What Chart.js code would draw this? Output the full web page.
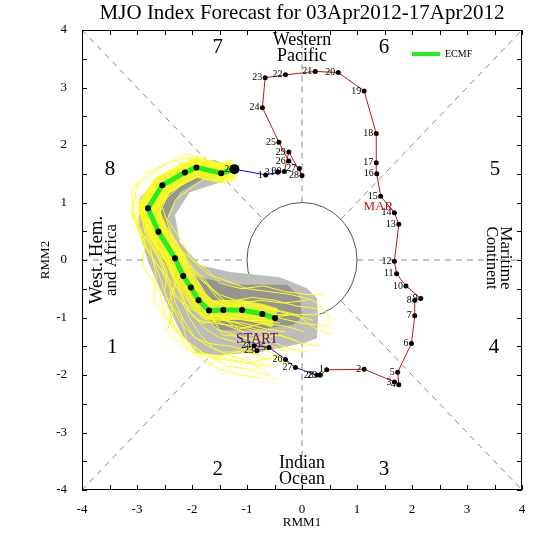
<!DOCTYPE html>
<html>
<head>
<meta charset="utf-8">
<script src="https://cdn.jsdelivr.net/npm/chart.js@4.4.1/dist/chart.umd.min.js"></script>
<style>
  body { margin: 0; background: #fff; }
  #wrap { width: 547px; height: 547px; }
</style>
</head>
<body>
<div id="wrap"><canvas id="mjo" width="547" height="547"></canvas></div>
<script>
const febDays = [23, 24, 25, 26, 27, 28, 29];
const febX = [-0.82, -0.87, -0.60, -0.30, -0.12, 0.27, 0.33];
const febY = [-1.58, -1.49, -1.52, -1.73, -1.87, -2.00, -2.00];

const marDays = [1, 2, 3, 4, 5, 6, 7, 8, 9, 10, 11, 12, 13, 14, 15, 16,
  17, 18, 19, 20, 21, 22, 23, 24, 25, 26, 27, 28, 29, 30, 31];
const marX = [0.45, 1.13, 1.68, 1.76, 1.74, 1.99, 2.05, 2.05, 2.16, 1.89, 1.72,
  1.68, 1.76, 1.68, 1.43, 1.36, 1.35, 1.35, 1.13, 0.66, 0.24, -0.30, -0.67,
  -0.72, -0.42, -0.24, -0.05, 0.00, -0.24, -0.32, -0.44];
const marY = [-1.91, -1.90, -2.12, -2.17, -1.95, -1.45, -0.97, -0.70, -0.67,
  -0.45, -0.24, -0.02, 0.62, 0.82, 1.11, 1.50, 1.69, 2.20, 2.94, 3.26, 3.28,
  3.22, 3.17, 2.65, 2.05, 1.72, 1.59, 1.47, 1.88, 1.54, 1.53];

const aprDays = [1, 2];
const aprX = [-0.66, -1.23];
const aprY = [1.48, 1.58];

// ECMF ensemble mean forecast, 03Apr - 17Apr (first value = last observed)
const fcstX = [-1.23, -1.47, -1.92, -2.13, -2.54, -2.80, -2.61, -2.31, -2.16,
  -2.02, -1.88, -1.69, -1.43, -1.09, -0.72, -0.49];
const fcstY = [1.58, 1.51, 1.61, 1.52, 1.30, 0.90, 0.49, 0.03, -0.28, -0.48,
  -0.70, -0.88, -0.87, -0.87, -0.94, -1.01];

// a selection of ensemble members (estimated)
const members = [
  [[-1.23,1.58],[-1.5,1.6],[-1.95,1.7],[-2.25,1.6],[-2.7,1.35],[-2.95,0.95],[-2.85,0.45],[-2.6,0.0],[-2.45,-0.35],[-2.3,-0.6],[-2.1,-0.85],[-1.9,-1.05],[-1.6,-1.1],[-1.2,-1.15],[-0.8,-1.25],[-0.5,-1.35]],
  [[-1.23,1.58],[-1.45,1.45],[-1.85,1.5],[-2.05,1.4],[-2.4,1.2],[-2.6,0.8],[-2.45,0.4],[-2.1,-0.05],[-1.9,-0.3],[-1.7,-0.45],[-1.5,-0.6],[-1.2,-0.7],[-0.9,-0.65],[-0.5,-0.7],[-0.1,-0.8],[0.3,-0.85]],
  [[-1.23,1.58],[-1.5,1.55],[-2.0,1.65],[-2.3,1.45],[-2.75,1.15],[-3.05,0.75],[-2.9,0.3],[-2.55,-0.2],[-2.4,-0.5],[-2.35,-0.85],[-2.2,-1.1],[-1.95,-1.35],[-1.7,-1.45],[-1.3,-1.5],[-0.9,-1.6],[-0.6,-1.75]],
  [[-1.23,1.58],[-1.4,1.55],[-1.8,1.68],[-2.05,1.6],[-2.45,1.4],[-2.75,1.05],[-2.7,0.6],[-2.45,0.2],[-2.3,-0.1],[-2.05,-0.35],[-1.85,-0.55],[-1.55,-0.75],[-1.3,-0.8],[-0.95,-0.95],[-0.55,-1.0],[-0.2,-0.95]],
  [[-1.23,1.58],[-1.55,1.5],[-2.0,1.55],[-2.2,1.4],[-2.6,1.1],[-2.8,0.7],[-2.5,0.3],[-2.2,-0.1],[-2.1,-0.45],[-1.95,-0.75],[-1.75,-1.0],[-1.55,-1.2],[-1.25,-1.3],[-0.9,-1.4],[-0.55,-1.5],[-0.25,-1.6]],
  [[-1.23,1.58],[-1.5,1.62],[-1.9,1.75],[-2.2,1.65],[-2.6,1.45],[-2.9,1.1],[-3.0,0.6],[-2.8,0.15],[-2.5,-0.25],[-2.2,-0.55],[-2.05,-0.9],[-1.8,-1.1],[-1.45,-1.05],[-1.05,-1.1],[-0.65,-1.2],[-0.3,-1.25]],
  [[-1.23,1.58],[-1.45,1.48],[-1.85,1.55],[-2.1,1.5],[-2.5,1.25],[-2.7,0.85],[-2.55,0.55],[-2.3,0.15],[-2.05,-0.1],[-1.8,-0.3],[-1.6,-0.55],[-1.35,-0.75],[-1.0,-0.85],[-0.6,-0.85],[-0.2,-0.95],[0.2,-1.05]],
  [[-1.23,1.58],[-1.5,1.52],[-1.95,1.6],[-2.2,1.55],[-2.55,1.2],[-2.85,0.8],[-2.75,0.35],[-2.4,-0.1],[-2.25,-0.45],[-2.15,-0.7],[-2.0,-0.95],[-1.75,-1.2],[-1.5,-1.35],[-1.1,-1.45],[-0.7,-1.55],[-0.35,-1.7]],
  [[-1.23,1.58],[-1.48,1.58],[-1.9,1.62],[-2.15,1.55],[-2.5,1.35],[-2.7,0.95],[-2.65,0.5],[-2.35,0.05],[-2.2,-0.25],[-2.0,-0.5],[-1.85,-0.72],[-1.65,-0.95],[-1.35,-1.0],[-1.0,-1.05],[-0.65,-1.05],[-0.4,-1.1]],
  [[-1.23,1.58],[-1.52,1.5],[-2.0,1.58],[-2.25,1.48],[-2.7,1.25],[-3.1,0.9],[-2.9,0.45],[-2.5,0.0],[-2.3,-0.4],[-2.45,-0.8],[-2.3,-1.2],[-2.0,-1.5],[-1.65,-1.7],[-1.3,-1.75],[-0.9,-1.8],[-0.5,-1.85]],
  [[-1.23,1.58],[-1.45,1.53],[-1.88,1.65],[-2.1,1.58],[-2.45,1.3],[-2.65,0.9],[-2.5,0.45],[-2.2,0.0],[-2.0,-0.35],[-1.85,-0.6],[-1.55,-0.85],[-1.25,-0.95],[-0.85,-1.0],[-0.45,-1.0],[0.0,-1.1],[0.5,-1.15]],
  [[-1.23,1.58],[-1.5,1.56],[-1.95,1.68],[-2.3,1.6],[-2.7,1.4],[-2.95,1.0],[-2.75,0.55],[-2.45,0.1],[-2.35,-0.3],[-2.2,-0.65],[-2.05,-1.0],[-1.85,-1.3],[-1.6,-1.55],[-1.35,-1.65],[-1.0,-1.75],[-0.7,-1.9]],
  [[-1.23,1.58],[-1.47,1.46],[-1.9,1.52],[-2.1,1.42],[-2.45,1.15],[-2.75,0.75],[-2.65,0.25],[-2.35,-0.15],[-2.1,-0.45],[-1.9,-0.65],[-1.65,-0.8],[-1.4,-0.9],[-1.1,-0.75],[-0.75,-0.7],[-0.35,-0.75],[0.1,-0.7]],
  [[-1.23,1.58],[-1.5,1.6],[-1.92,1.7],[-2.18,1.62],[-2.6,1.3],[-2.85,0.95],[-2.6,0.6],[-2.25,0.1],[-2.1,-0.2],[-1.95,-0.45],[-1.8,-0.75],[-1.5,-1.0],[-1.2,-1.1],[-0.85,-1.2],[-0.45,-1.3],[-0.1,-1.4]],
  [[-1.23,1.58],[-1.45,1.5],[-1.85,1.6],[-2.05,1.52],[-2.35,1.3],[-2.55,0.95],[-2.4,0.5],[-2.15,0.1],[-1.95,-0.2],[-1.75,-0.4],[-1.55,-0.65],[-1.3,-0.8],[-0.95,-0.9],[-0.55,-0.95],[-0.15,-0.95],[0.35,-0.95]],
  [[-1.23,1.58],[-1.52,1.55],[-1.98,1.62],[-2.22,1.5],[-2.65,1.2],[-2.9,0.8],[-2.8,0.4],[-2.55,-0.05],[-2.4,-0.4],[-2.3,-0.75],[-2.15,-1.05],[-1.95,-1.35],[-1.7,-1.5],[-1.45,-1.6],[-1.1,-1.6],[-0.8,-1.65]],
  [[-1.23,1.58],[-1.6,1.7],[-2.1,1.85],[-2.6,1.6],[-3.0,1.3],[-3.1,0.8],[-2.85,0.3],[-2.9,-0.1],[-2.6,-0.5],[-2.5,-0.95],[-2.2,-1.3],[-1.9,-1.6],[-1.4,-1.7],[-1.0,-1.8],[-0.6,-1.7],[-0.2,-1.8]],
  [[-1.23,1.58],[-1.4,1.42],[-1.8,1.4],[-1.95,1.3],[-2.3,1.05],[-2.45,0.7],[-2.2,0.35],[-2.0,0.0],[-1.7,-0.25],[-1.4,-0.35],[-1.0,-0.5],[-0.6,-0.55],[-0.2,-0.6],[0.2,-0.7],[0.45,-0.9],[0.55,-1.1]],
  [[-1.23,1.58],[-1.55,1.65],[-2.05,1.78],[-2.4,1.7],[-2.85,1.5],[-3.1,1.2],[-3.05,0.7],[-2.75,0.2],[-2.65,-0.3],[-2.7,-0.7],[-2.45,-1.05],[-2.2,-1.35],[-2.0,-1.6],[-1.6,-1.7],[-1.2,-1.6],[-0.8,-1.5]],
  [[-1.23,1.58],[-1.5,1.5],[-1.9,1.45],[-2.2,1.3],[-2.55,1.0],[-2.65,0.6],[-2.4,0.2],[-2.25,-0.25],[-2.35,-0.6],[-2.0,-0.85],[-1.6,-1.05],[-1.2,-1.2],[-0.8,-1.35],[-0.4,-1.3],[0.0,-1.45],[0.35,-1.5]],
  [[-1.23,1.58],[-1.45,1.6],[-1.85,1.72],[-2.0,1.55],[-2.4,1.35],[-2.6,1.0],[-2.55,0.7],[-2.4,0.3],[-2.05,0.05],[-1.75,-0.15],[-1.5,-0.4],[-1.1,-0.5],[-0.7,-0.45],[-0.3,-0.55],[0.1,-0.6],[0.4,-0.6]],
  [[-1.23,1.58],[-1.55,1.48],[-2.05,1.5],[-2.35,1.35],[-2.8,1.05],[-3.0,0.55],[-2.75,0.1],[-2.6,-0.25],[-2.45,-0.7],[-2.2,-1.0],[-2.1,-1.4],[-1.75,-1.65],[-1.35,-1.85],[-0.95,-1.9],[-0.6,-2.0],[-0.45,-2.1]],
  [[-1.23,1.58],[-1.5,1.58],[-1.95,1.66],[-2.25,1.55],[-2.65,1.25],[-2.75,0.85],[-2.6,0.4],[-2.4,-0.05],[-2.0,-0.4],[-1.65,-0.7],[-1.35,-0.8],[-1.0,-0.75],[-0.55,-0.85],[-0.1,-0.95],[0.25,-1.2],[0.55,-1.3]],
  [[-1.23,1.58],[-1.48,1.5],[-1.9,1.58],[-2.12,1.45],[-2.5,1.2],[-2.9,0.85],[-2.7,0.3],[-2.45,-0.2],[-2.5,-0.55],[-2.35,-0.9],[-2.45,-1.25],[-2.15,-1.5],[-1.85,-1.7],[-1.5,-1.9],[-1.1,-2.0],[-0.75,-2.05]],
  [[-1.23,1.58],[-1.5,1.62],[-1.95,1.62],[-2.2,1.48],[-2.5,1.4],[-2.8,1.15],[-2.7,0.65],[-2.5,0.25],[-2.25,-0.15],[-2.05,-0.6],[-1.7,-0.9],[-1.45,-1.3],[-1.0,-1.35],[-0.6,-1.4],[-0.2,-1.55],[0.1,-1.6]],
  [[-1.23,1.58],[-1.42,1.52],[-1.85,1.63],[-2.05,1.45],[-2.35,1.2],[-2.7,1.0],[-2.85,0.5],[-2.55,0.15],[-2.15,-0.2],[-2.0,-0.55],[-1.75,-0.8],[-1.45,-1.0],[-1.15,-1.2],[-0.7,-1.1],[-0.3,-1.15],[0.05,-1.25]]
];

// ensemble spread envelopes
const outerX = [-1.58, -1.27, -1.45, -2.04, -2.31, -2.22, -1.85, -1.31, -0.40, 0.09,
  0.27, 0.29, 0.27, 0.05, -0.76, -1.49, -1.91, -2.16, -2.49, -2.80, -2.98, -2.95, -2.58, -2.04];
const outerY = [1.74, 1.60, 1.36, 1.18, 0.78, 0.31, -0.09, -0.21, -0.30, -0.49,
  -0.66, -0.99, -1.36, -1.44, -1.60, -1.65, -1.62, -1.34, -0.70, -0.03, 0.56, 1.08, 1.46, 1.69];
const innerX = [-1.67, -1.40, -1.76, -2.22, -2.44, -2.40, -2.04, -1.25, -0.27, -0.04,
  0.00, -0.16, -0.89, -1.49, -1.95, -2.31, -2.62, -2.73, -2.55, -2.13];
const innerY = [1.63, 1.60, 1.43, 1.18, 0.78, 0.26, -0.26, -0.43, -0.43, -0.64,
  -0.99, -1.13, -1.22, -1.22, -0.87, -0.38, 0.17, 0.78, 1.25, 1.53];

const axisMin = -4, axisMax = 4;

const SERIF = "'Liberation Serif', 'DejaVu Serif', serif";
const pts = (xs, ys) => xs.map((x, i) => ({ x: x, y: ys[i] }));

const datasets = [];
datasets.push({ data: pts(outerX, outerY), showLine: true, fill: 'shape',
  backgroundColor: '#bdbdbd', borderWidth: 0, pointRadius: 0, order: 100 });
datasets.push({ data: pts(innerX, innerY), showLine: true, fill: 'shape',
  backgroundColor: '#959595', borderWidth: 0, pointRadius: 0, order: 99 });
datasets.push({ data: pts(fcstX, fcstY), showLine: true, borderColor: 'rgba(255,255,40,0.8)',
  borderWidth: 20, pointRadius: 0, borderJoinStyle: 'round', order: 92 });
members.forEach(m => {
  datasets.push({ data: m.map(p => ({ x: p[0], y: p[1] })), showLine: true,
    borderColor: '#ffff1a', borderWidth: 1, pointRadius: 0, order: 90 });
});
datasets.push({ data: pts(fcstX, fcstY), showLine: true, borderColor: '#22ee22',
  borderWidth: 5, pointRadius: fcstX.map((v, i) => i === 0 ? 0 : 3),
  pointBackgroundColor: '#000', pointBorderWidth: 0, order: 20 });

datasets.push({ data: pts(febX, febY), showLine: true, borderColor: '#660099',
  borderWidth: 1, pointRadius: 2.5, pointBackgroundColor: '#000', pointBorderWidth: 0, order: 10 });
datasets.push({ data: pts([febX[febX.length - 1]].concat(marX), [febY[febY.length - 1]].concat(marY)),
  showLine: true, borderColor: '#cc1111', borderWidth: 1, pointRadius: 2.5,
  pointBackgroundColor: '#000', pointBorderWidth: 0, order: 9 });
datasets.push({ data: pts([marX[marX.length - 1]].concat(aprX), [marY[marY.length - 1]].concat(aprY)),
  showLine: true, borderColor: '#0000ff', borderWidth: 1,
  pointRadius: [2.5, 2.5, 5], pointBackgroundColor: '#000', pointBorderWidth: 0, order: 8 });

const mjoDecor = {
  id: 'mjoDecor',
  beforeDatasetsDraw(chart) {
    const ctx = chart.ctx, sx = chart.scales.x, sy = chart.scales.y;
    const X = v => sx.getPixelForValue(v), Y = v => sy.getPixelForValue(v);
    const r = Math.SQRT1_2;
    ctx.save();
    ctx.strokeStyle = '#8a8a8a';
    ctx.lineWidth = 1;
    ctx.setLineDash([6, 5]);
    const segs = [
      [-4, 0, -1, 0], [1, 0, 4, 0], [0, -4, 0, -1], [0, 1, 0, 4],
      [-4, -4, -r, -r], [r, r, 4, 4], [-4, 4, -r, r], [r, -r, 4, -4]
    ];
    segs.forEach(s => {
      ctx.beginPath();
      ctx.moveTo(X(s[0]), Y(s[1]));
      ctx.lineTo(X(s[2]), Y(s[3]));
      ctx.stroke();
    });
    ctx.setLineDash([]);
    ctx.strokeStyle = '#555';
    ctx.beginPath();
    ctx.ellipse(X(0), Y(0), X(1) - X(0), Y(0) - Y(1), 0, 0, Math.PI * 2);
    ctx.stroke();

    // phase numbers
    ctx.fillStyle = '#000';
    ctx.textAlign = 'center';
    ctx.textBaseline = 'middle';
    ctx.font = '21px ' + SERIF;
    const phases = [['1', -3.45, -1.53], ['2', -1.53, -3.65], ['3', 1.49, -3.65],
      ['4', 3.49, -1.53], ['5', 3.51, 1.57], ['6', 1.49, 3.70], ['7', -1.53, 3.70], ['8', -3.49, 1.57]];
    phases.forEach(p => ctx.fillText(p[0], X(p[1]), Y(p[2])));

    // region names
    ctx.font = '18px ' + SERIF;
    ctx.fillText('Western', X(0), 40);
    ctx.fillText('Pacific', X(0), 56);
    ctx.fillText('Indian', X(0), 463);
    ctx.fillText('Ocean', X(0), 479);

    ctx.save();
    ctx.translate(97, 260);
    ctx.rotate(-Math.PI / 2);
    ctx.font = '19px ' + SERIF;
    ctx.fillText('West. Hem.', 0, 0);
    ctx.font = '17px ' + SERIF;
    ctx.fillText('and Africa', 0, 15);
    ctx.restore();

    ctx.save();
    ctx.translate(505, 258);
    ctx.rotate(Math.PI / 2);
    ctx.font = '17px ' + SERIF;
    ctx.fillText('Maritime', 0, 0);
    ctx.font = '16px ' + SERIF;
    ctx.fillText('Continent', 0, 14);
    ctx.restore();
    ctx.restore();
  },
  afterDatasetsDraw(chart) {
    const ctx = chart.ctx, sx = chart.scales.x, sy = chart.scales.y;
    const X = v => sx.getPixelForValue(v), Y = v => sy.getPixelForValue(v);
    const a = chart.chartArea;
    ctx.save();
    // day labels
    ctx.fillStyle = '#000';
    ctx.font = '10px ' + SERIF;
    ctx.textAlign = 'right';
    ctx.textBaseline = 'middle';
    const lab = (days, xs, ys, big) => days.forEach((d, i) => {
      const off = (big && i === days.length - 1) ? 5 : 3;
      ctx.fillText(String(d), X(xs[i]) - off, Y(ys[i]));
    });
    lab(febDays, febX, febY);
    lab(marDays, marX, marY);
    lab(aprDays, aprX, aprY, true);

    ctx.textAlign = 'center';
    ctx.font = '14px ' + SERIF;
    ctx.fillStyle = '#660099';
    ctx.fillText('START', X(febX[1]) + 3, Y(febY[1]) - 6);
    ctx.font = '13px ' + SERIF;
    ctx.fillStyle = '#cc1111';
    ctx.fillText('MAR', X(marX[13]) - 16, Y(marY[13]) - 6);

    // frame and inward ticks
    ctx.strokeStyle = '#000';
    ctx.lineWidth = 1;
    ctx.strokeRect(a.left + 0.5, a.top + 0.5, a.right - a.left - 1, a.bottom - a.top - 1);
    ctx.beginPath();
    for (let v = axisMin; v <= axisMax; v += 0.5) {
      const px = Math.round(X(v)) + 0.5, py = Math.round(Y(v)) + 0.5;
      ctx.moveTo(px, a.bottom); ctx.lineTo(px, a.bottom - 5);
      ctx.moveTo(px, a.top); ctx.lineTo(px, a.top + 5);
      ctx.moveTo(a.left, py); ctx.lineTo(a.left + 5, py);
      ctx.moveTo(a.right, py); ctx.lineTo(a.right - 5, py);
    }
    ctx.stroke();

    // legend
    ctx.strokeStyle = '#22ee22';
    ctx.lineWidth = 4;
    ctx.beginPath();
    ctx.moveTo(412, 54); ctx.lineTo(440, 54);
    ctx.stroke();
    ctx.fillStyle = '#000';
    ctx.font = '10px ' + SERIF;
    ctx.textAlign = 'left';
    ctx.fillText('ECMF', 445, 54);

    // title and axis titles
    ctx.textAlign = 'center';
    ctx.font = '21px ' + SERIF;
    ctx.fillText('MJO Index Forecast for 03Apr2012-17Apr2012', X(0), 13);
    ctx.font = '13px ' + SERIF;
    ctx.fillText('RMM1', X(0), 523);
    ctx.save();
    ctx.translate(46, Y(0));
    ctx.rotate(-Math.PI / 2);
    ctx.fillText('RMM2', 0, 0);
    ctx.restore();
    ctx.restore();
  }
};

new Chart(document.getElementById('mjo'), {
  type: 'line',
  data: { datasets: datasets },
  options: {
    responsive: false,
    animation: false,
    layout: { padding: { top: 30, right: 25, left: 0, bottom: 0 } },
    elements: { line: { tension: 0 } },
    plugins: { legend: { display: false }, tooltip: { enabled: false } },
    scales: {
      x: {
        type: 'linear', min: axisMin, max: axisMax,
        grid: { display: false, drawTicks: false }, border: { display: false },
        ticks: { stepSize: 1, padding: 12, color: '#000', font: { family: SERIF, size: 13 } },
        afterFit: s => { s.height = 57; }
      },
      y: {
        type: 'linear', min: axisMin, max: axisMax,
        grid: { display: false, drawTicks: false }, border: { display: false },
        ticks: { stepSize: 1, padding: 15, color: '#000', font: { family: SERIF, size: 13 } },
        afterFit: s => { s.width = 82; }
      }
    }
  },
  plugins: [mjoDecor]
});
</script>
</body>
</html>
